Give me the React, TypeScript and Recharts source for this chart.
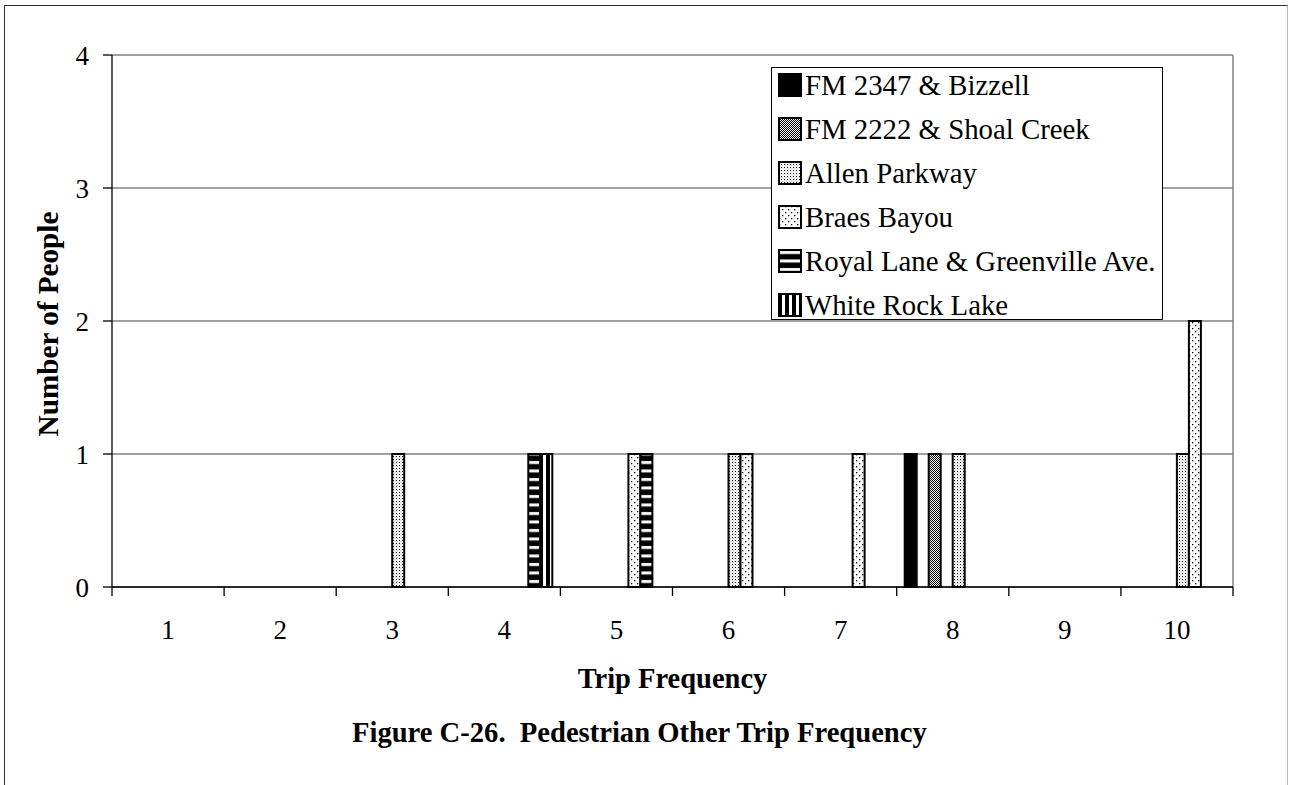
import React from 'react';
import { BarChart, Bar, XAxis, YAxis, CartesianGrid, Legend } from 'recharts';

const tripFrequency = ['1', '2', '3', '4', '5', '6', '7', '8', '9', '10'];
const fm2347Bizzell = [0, 0, 0, 0, 0, 0, 0, 1, 0, 0];
const unlistedA = [0, 0, 0, 0, 0, 0, 0, 0, 0, 0];
const fm2222ShoalCreek = [0, 0, 0, 0, 0, 0, 0, 1, 0, 0];
const unlistedB = [0, 0, 0, 0, 0, 0, 0, 0, 0, 0];
const allenParkway = [0, 0, 1, 0, 0, 1, 0, 1, 0, 1];
const braesBayou = [0, 0, 0, 0, 1, 1, 1, 0, 0, 2];
const royalLaneGreenville = [0, 0, 0, 1, 1, 0, 0, 0, 0, 0];
const whiteRockLake = [0, 0, 0, 1, 0, 0, 0, 0, 0, 0];
const peopleTicks = [0, 1, 2, 3, 4];

const FONT = "'Liberation Serif', 'Times New Roman', serif";

const series = [
  { key: 'fm2347', name: 'FM 2347 & Bizzell', values: fm2347Bizzell, fill: '#000', legend: true },
  { key: 'unlistedA', name: 'unlisted A', values: unlistedA, fill: '#fff', legend: false },
  { key: 'fm2222', name: 'FM 2222 & Shoal Creek', values: fm2222ShoalCreek, fill: 'url(#pat-fm2222)', legend: true },
  { key: 'unlistedB', name: 'unlisted B', values: unlistedB, fill: '#fff', legend: false },
  { key: 'allen', name: 'Allen Parkway', values: allenParkway, fill: 'url(#pat-allen)', legend: true },
  { key: 'braes', name: 'Braes Bayou', values: braesBayou, fill: 'url(#pat-braes)', legend: true },
  { key: 'royal', name: 'Royal Lane & Greenville Ave.', values: royalLaneGreenville, fill: 'url(#pat-royal)', legend: true },
  { key: 'whiteRock', name: 'White Rock Lake', values: whiteRockLake, fill: 'url(#pat-white)', legend: true },
];

const data = tripFrequency.map((trip, i) => {
  const row: any = { trip };
  series.forEach((s) => {
    row[s.key] = s.values[i];
  });
  return row;
});

// Excel puts category ticks between the categories, so draw them at the band edges
const XTick = (props: any) => {
  const { x, y, payload, index, visibleTicksCount, width } = props;
  const half = payload.offset || width / visibleTicksCount / 2;
  return (
    <g>
      <line x1={x - half} x2={x - half} y1={y} y2={y + 9} stroke="#000" strokeWidth={1.3} />
      {index === visibleTicksCount - 1 && (
        <line x1={x + half} x2={x + half} y1={y} y2={y + 9} stroke="#000" strokeWidth={1.3} />
      )}
      <text x={x} y={y + 43} textAnchor="middle" dominantBaseline="central" fontSize={27} fontFamily={FONT} fill="#000">
        {payload.value}
      </text>
    </g>
  );
};

const LegendBox = () => (
  <div style={{ border: '1px solid #000', background: '#fff', width: 390, height: 251, position: 'relative', fontFamily: FONT }}>
    <div style={{ position: 'absolute', top: -5, left: 6 }}>
      {series
        .filter((s) => s.legend)
        .map((s) => (
          <div key={s.key} style={{ display: 'flex', alignItems: 'center', height: 44 }}>
            <svg width={24} height={24} style={{ marginRight: 3 }}>
              <rect x={1} y={1} width={22} height={22} fill={s.fill} stroke="#000" strokeWidth={2} />
            </svg>
            <span style={{ fontSize: 28.8, lineHeight: '44px', color: '#000', whiteSpace: 'nowrap', fontFamily: FONT }}>
              {s.name}
            </span>
          </div>
        ))}
    </div>
  </div>
);

export default function App() {
  return (
    <div style={{ position: 'absolute', left: 0, top: 0, width: 1289, height: 785, background: '#fff', overflow: 'hidden' }}>
      <div
        style={{
          position: 'absolute',
          left: 4,
          top: 5,
          width: 1282,
          height: 800,
          borderLeft: '1.5px solid #333',
          borderTop: '1.5px solid #333',
          borderRight: '1px solid #bbb',
        }}
      />
      <div style={{ position: 'absolute', left: 0, top: 0 }}>
        <BarChart
          width={1289}
          height={785}
          data={data}
          margin={{ top: 55, right: 56, bottom: 98, left: 22 }}
          barGap={0}
          barSize={12}
        >
          <defs>
            <pattern id="pat-fm2222" width={2} height={2} patternUnits="userSpaceOnUse">
              <rect width={2} height={2} fill="#fff" />
              <rect width={1} height={1} fill="#000" />
              <rect x={1} y={1} width={1} height={1} fill="#000" />
            </pattern>
            <pattern id="pat-allen" width={3} height={3} patternUnits="userSpaceOnUse">
              <rect width={3} height={3} fill="#fff" />
              <rect width={1} height={1} fill="#000" />
              <rect x={1.5} y={1.5} width={0.8} height={0.8} fill="#666" />
            </pattern>
            <pattern id="pat-braes" width={6} height={6} patternUnits="userSpaceOnUse">
              <rect width={6} height={6} fill="#fff" />
              <rect x={1} y={1} width={1.3} height={1.3} fill="#000" />
              <rect x={4} y={4} width={1.3} height={1.3} fill="#000" />
            </pattern>
            <pattern id="pat-royal" width={8} height={8.5} patternUnits="userSpaceOnUse">
              <rect width={8} height={8.5} fill="#000" />
              <rect y={2} width={8} height={3} fill="#fff" />
            </pattern>
            <pattern id="pat-white" width={7} height={4} patternUnits="userSpaceOnUse">
              <rect width={7} height={4} fill="#000" />
              <rect x={4} width={3} height={4} fill="#fff" />
            </pattern>
          </defs>
          <CartesianGrid
            vertical
            stroke="#808080"
            strokeWidth={1.5}
            verticalCoordinatesGenerator={({ offset }: any) => [offset.left + offset.width]}
          />
          <XAxis
            dataKey="trip"
            height={100}
            tickLine={false}
            tickSize={0}
            tickMargin={0}
            axisLine={{ stroke: '#000', strokeWidth: 1.5 }}
            tick={<XTick />}
            interval={0}
            label={{
              content: ({ viewBox }: any) => (
                <text
                  x={viewBox.x + viewBox.width / 2}
                  y={viewBox.y + 91}
                  textAnchor="middle"
                  dominantBaseline="central"
                  fontSize={28.5}
                  fontWeight="bold"
                  fontFamily={FONT}
                  fill="#000"
                >
                  Trip Frequency
                </text>
              ),
            }}
          />
          <YAxis
            width={90}
            domain={[0, 4]}
            ticks={peopleTicks}
            interval={0}
            tickSize={9}
            tickMargin={14}
            axisLine={{ stroke: '#000', strokeWidth: 1.3 }}
            tickLine={{ stroke: '#000', strokeWidth: 1.3 }}
            tick={{ fill: '#000', fontSize: 27, fontFamily: FONT }}
            label={{
              content: ({ viewBox }: any) => {
                const cx = viewBox.x + 26;
                const cy = viewBox.y + viewBox.height / 2 + 3;
                return (
                  <text
                    x={cx}
                    y={cy}
                    transform={`rotate(-90 ${cx} ${cy})`}
                    textAnchor="middle"
                    dominantBaseline="central"
                    fontSize={29.2}
                    fontWeight="bold"
                    fontFamily={FONT}
                    fill="#000"
                  >
                    Number of People
                  </text>
                );
              },
            }}
          />
          <Legend
            layout="vertical"
            align="center"
            verticalAlign="middle"
            content={<LegendBox />}
            wrapperStyle={{ left: 771, top: 67, width: 392, height: 253 }}
          />
          {series.map((s) => (
            <Bar
              key={s.key}
              dataKey={s.key}
              name={s.name}
              fill={s.fill}
              stroke="#000"
              strokeWidth={2}
              legendType={s.legend ? 'square' : 'none'}
              isAnimationActive={false}
            />
          ))}
        </BarChart>
      </div>
      <div
        style={{
          position: 'absolute',
          left: 352,
          top: 711,
          height: 44,
          lineHeight: '44px',
          fontFamily: FONT,
          fontSize: 28.6,
          fontWeight: 'bold',
          whiteSpace: 'pre',
          color: '#000',
        }}
      >
        {'Figure C-26.  Pedestrian Other Trip Frequency'}
      </div>
    </div>
  );
}
